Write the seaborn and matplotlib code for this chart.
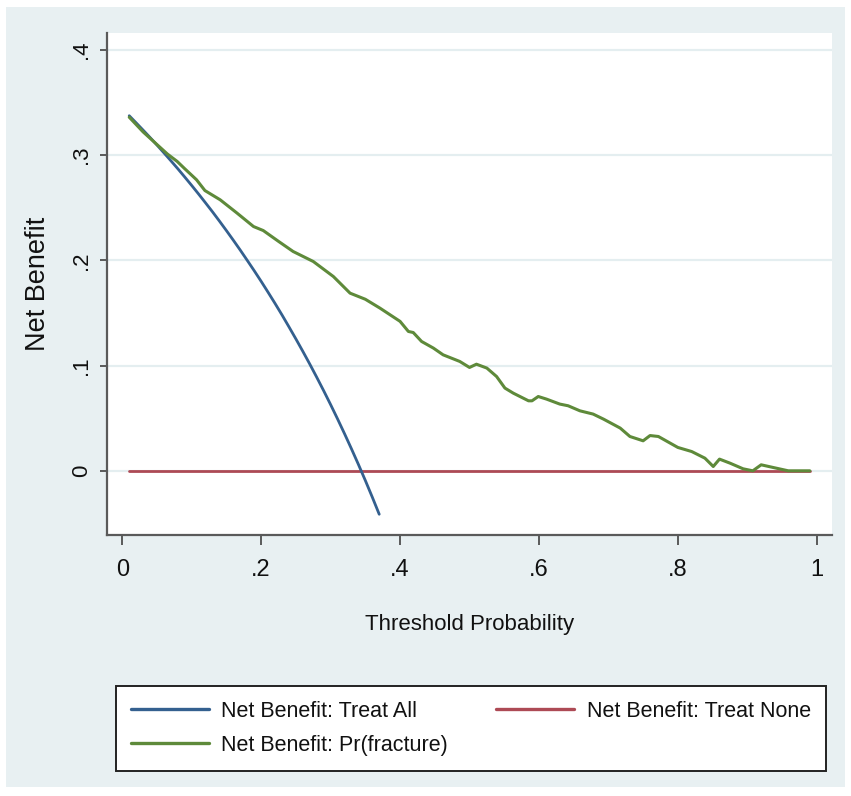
import matplotlib
matplotlib.use("Agg")
import matplotlib.pyplot as plt
import numpy as np
import pandas as pd
import seaborn as sns
from matplotlib.patches import Rectangle

# threshold probabilities and net benefit values
pt_all = [0.01, 0.02, 0.03, 0.04, 0.05, 0.06, 0.07, 0.08, 0.09, 0.10,
          0.11, 0.12, 0.13, 0.14, 0.15, 0.16, 0.17, 0.18, 0.19, 0.20,
          0.21, 0.22, 0.23, 0.24, 0.25, 0.26, 0.27, 0.28, 0.29, 0.30,
          0.31, 0.32, 0.33, 0.34, 0.35, 0.36, 0.37]
nb_all = [0.3374, 0.3306, 0.3237, 0.3167, 0.3095, 0.3021, 0.2946, 0.2870, 0.2791, 0.2711,
          0.2629, 0.2545, 0.2460, 0.2372, 0.2282, 0.2190, 0.2096, 0.1999, 0.1901, 0.1800,
          0.1696, 0.1590, 0.1481, 0.1368, 0.1253, 0.1135, 0.1014, 0.0889, 0.0761, 0.0629,
          0.0493, 0.0353, 0.0209, 0.0061, -0.0092, -0.0250, -0.0413]

pt_none = [0.01, 0.99]
nb_none = [0.0, 0.0]

pt_model = [0.01, 0.03, 0.05, 0.065, 0.079, 0.09, 0.107, 0.119, 0.141, 0.165,
            0.189, 0.203, 0.225, 0.246, 0.275, 0.304, 0.328, 0.35, 0.371, 0.40,
            0.412, 0.419, 0.431, 0.448, 0.462, 0.486, 0.50, 0.51, 0.525, 0.539,
            0.551, 0.563, 0.585, 0.59, 0.599, 0.611, 0.63, 0.642, 0.659, 0.678,
            0.693, 0.717, 0.731, 0.75, 0.76, 0.772, 0.80, 0.82, 0.839, 0.851,
            0.86, 0.875, 0.894, 0.908, 0.92, 0.937, 0.959, 0.99]
nb_model = [0.336, 0.322, 0.310, 0.301, 0.294, 0.287, 0.2765, 0.2663, 0.2575, 0.245,
            0.2321, 0.2283, 0.218, 0.2084, 0.1989, 0.1846, 0.1688, 0.163, 0.1546, 0.142,
            0.1324, 0.1314, 0.1229, 0.1166, 0.1102, 0.1039, 0.0982, 0.1013, 0.0976, 0.0896,
            0.0786, 0.0738, 0.0665, 0.0665, 0.0706, 0.0681, 0.0634, 0.0618, 0.057, 0.0539,
            0.0491, 0.0406, 0.0326, 0.0285, 0.0335, 0.0326, 0.0222, 0.0183, 0.012, 0.0041,
            0.0111, 0.0073, 0.0019, 0.0, 0.0057, 0.0032, 0.0, 0.0]

x_ticks = [0, 0.2, 0.4, 0.6, 0.8, 1.0]
x_ticklabels = ["0", ".2", ".4", ".6", ".8", "1"]
y_ticks = [0, 0.1, 0.2, 0.3, 0.4]
y_ticklabels = ["0", ".1", ".2", ".3", ".4"]

sns.set_style("white")
plt.rcParams["font.family"] = ["Liberation Sans", "DejaVu Sans"]
plt.rcParams["text.color"] = "#111111"
plt.rcParams["axes.labelcolor"] = "#111111"
plt.rcParams["xtick.labelcolor"] = "#111111"
plt.rcParams["ytick.labelcolor"] = "#111111"

bg = "#e8f0f2"
grid_c = "#e4eef0"
axis_c = "#5a5a5a"

fig = plt.figure(figsize=(8.51, 7.96), dpi=100)
fig.patch.set_facecolor("white")
fig.patches.append(Rectangle((6 / 851, 1 - 787 / 796), 839 / 851, 780 / 796,
                             transform=fig.transFigure, facecolor=bg,
                             edgecolor="none", zorder=-10))

ax = fig.add_axes([107 / 851, 1 - 535 / 796, 725 / 851, 502 / 796])
ax.set_facecolor("white")

df_all = pd.DataFrame({"pt": pt_all, "nb": nb_all})
df_none = pd.DataFrame({"pt": pt_none, "nb": nb_none})
df_model = pd.DataFrame({"pt": pt_model, "nb": nb_model})

for y in y_ticks:
    ax.axhline(y, color=grid_c, lw=1.6, zorder=0)

sns.lineplot(data=df_all, x="pt", y="nb", ax=ax, color="#34608f", lw=2.0,
             label="Net Benefit: Treat All", zorder=3)
sns.lineplot(data=df_model, x="pt", y="nb", ax=ax, color="#5e8a3a", lw=2.2,
             label="Net Benefit: Pr(fracture)", zorder=4)
sns.lineplot(data=df_none, x="pt", y="nb", ax=ax, color="#ad4a55", lw=2.0,
             label="Net Benefit: Treat None", zorder=2)

ax.set_xlim(-0.022, 1.022)
ax.set_ylim(-0.061, 0.416)
ax.set_xticks(x_ticks)
ax.set_xticklabels(x_ticklabels, fontsize=17)
ax.set_yticks(y_ticks)
ax.set_yticklabels(y_ticklabels, fontsize=16, rotation=90, va="center")

ax.set_xlabel("Threshold Probability", fontsize=16, labelpad=24)
ax.set_ylabel("Net Benefit", fontsize=19.5, labelpad=14)

for side in ["top", "right"]:
    ax.spines[side].set_visible(False)
for side in ["left", "bottom"]:
    ax.spines[side].set_color(axis_c)
    ax.spines[side].set_linewidth(1.6)
ax.tick_params(axis="x", direction="out", length=7, width=1.4, color=axis_c, pad=10, bottom=True)
ax.tick_params(axis="y", direction="out", length=5, width=1.4, color=axis_c, pad=6, left=True)

handles, labels = ax.get_legend_handles_labels()
ax.get_legend().remove()
leg = fig.legend(handles, labels, ncol=2, loc="lower left",
                 bbox_to_anchor=(116 / 851, 25 / 796, 710 / 851, 89 / 796),
                 mode="expand", frameon=True, fancybox=False, edgecolor="#222222",
                 facecolor="white", framealpha=1, prop={"size": 15.5},
                 handlelength=3.6, handletextpad=0.6, columnspacing=1.5,
                 borderaxespad=0, labelspacing=0.6, borderpad=0.7)
leg.get_frame().set_linewidth(1.4)
for line in leg.get_lines():
    line.set_linewidth(2.4)

fig.savefig("out.png", dpi=100, facecolor=fig.get_facecolor())
